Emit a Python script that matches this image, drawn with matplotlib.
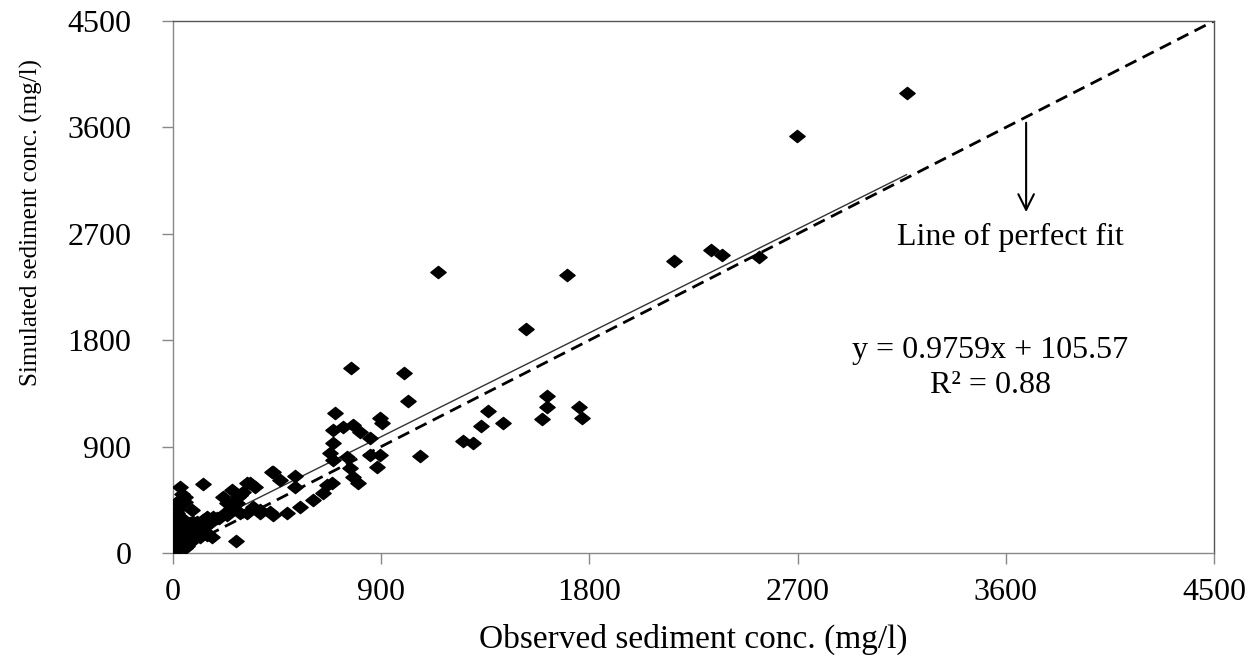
import matplotlib.pyplot as plt
import numpy as np
from matplotlib.path import Path

# observed vs simulated sediment concentration (mg/l)
observed = [1, 1, 9, 1, 30, 59, 52, 37, 88, 66, 9, 117, 146, 102, 23, 88, 167, 146,
            16, 9, 117, 45, 73, 88, 102, 131, 272, 174, 189, 146, 225, 232, 9, 16,
            290, 318, 290, 81, 347, 376, 419, 16, 52, 23, 232, 261, 275, 52, 218,
            282, 290, 304, 253, 30, 355, 131, 333, 318, 434, 427, 463, 527, 527,
            376, 434, 491, 549, 607, 650, 686, 664,
            30, 60, 15, 45, 110, 5, 70, 130, 160, 200, 250, 20, 40,
            679, 693, 693, 693, 700, 736, 751, 765, 768, 780, 780, 801, 808, 852,
            852, 881, 895, 902, 895,
            999, 1016, 1068, 1146, 1254, 1297, 1332, 1362, 1427, 1526, 1595, 1617,
            1617, 1703, 1755, 1768, 2166, 2326, 2374, 2534, 2698, 3171]
simulated = [0, 25, 53, 82, 40, 82, 40, 110, 110, 110, 138, 138, 152, 152, 167, 167,
             138, 167, 195, 180, 195, 223, 251, 265, 265, 279, 102, 307, 293, 307,
             335, 321, 321, 335, 335, 335, 491, 364, 392, 364, 350, 434, 434, 420,
             420, 420, 420, 477, 477, 477, 491, 519, 533, 561, 561, 584, 589, 589,
             688, 688, 618, 651, 561,
             340, 321, 335, 392, 448, 505, 589, 575,
             130, 60, 240, 290, 210, 270, 180, 230, 250, 300, 380, 370, 500,
             843, 787, 928, 1041, 1187, 1063, 815, 716, 1562, 1083, 645, 589, 1026,
             970, 829, 730, 1145, 1097, 829,
             1523, 1286, 821, 2377, 948, 931, 1074, 1201, 1100, 1895, 1134, 1235,
             1328, 2352, 1235, 1142, 2470, 2563, 2521, 2504, 3528, 3892]

slope, intercept = 0.9759, 105.57
ticks = [0, 900, 1800, 2700, 3600, 4500]

plt.rcParams['font.family'] = ['Liberation Serif', 'DejaVu Serif']

fig = plt.figure(figsize=(12.58, 6.56), dpi=100)
ax = fig.add_axes([0.1375, 0.157, 0.8275, 0.811])

# excel-like diamond, a bit wider than tall
diamond = Path([(-1, 0), (0, 0.8), (1, 0), (0, -0.8), (-1, 0)],
               [Path.MOVETO, Path.LINETO, Path.LINETO, Path.LINETO, Path.CLOSEPOLY])
ax.plot(observed, simulated, ls='none', marker=diamond, ms=11, color='black', zorder=3)

# line of perfect fit
ax.plot([0, 4500], [0, 4500], color='black', lw=2, ls=(0, (4.5, 2.5)), zorder=2)

# linear trendline across the observed range
xs = np.array([min(observed), max(observed)])
ax.plot(xs, slope * xs + intercept, color='#333333', lw=1, zorder=2)

ax.set_xlim(0, 4500)
ax.set_ylim(0, 4500)
ax.set_xticks(ticks)
ax.set_yticks(ticks)
ax.tick_params(direction='out', length=8, width=1, color='#888888',
               labelsize=23, pad=10)
ax.tick_params(axis='y', pad=22)
for s in ax.spines.values():
    s.set_color('#888888')
    s.set_linewidth(1)
ax.spines['top'].set_color('#555555')
ax.spines['right'].set_color('#555555')

ax.set_xlabel('Observed sediment conc. (mg/l)', fontsize=24, labelpad=12)
ax.set_ylabel('Simulated sediment conc. (mg/l)', fontsize=18)
ax.yaxis.set_label_coords(-0.125, 0.622)

ax.annotate('', xy=(3688, 2860), xytext=(3688, 3663),
            arrowprops=dict(arrowstyle='->', color='black', lw=1.5,
                            mutation_scale=28))
ax.text(3619, 2665, 'Line of perfect fit', fontsize=23, ha='center', va='center')
ax.text(3532, 1717, 'y = 0.9759x + 105.57', fontsize=23, ha='center', va='center')
ax.text(3532, 1421, 'R² = 0.88', fontsize=23, ha='center', va='center')

plt.savefig('out.png', dpi=100)
